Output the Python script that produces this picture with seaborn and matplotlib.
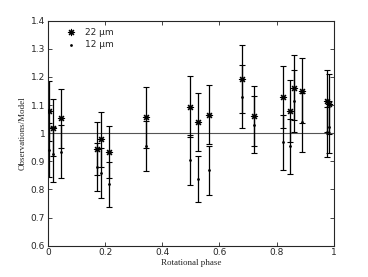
import numpy as np
import pandas as pd
import matplotlib
matplotlib.use('Agg')
import matplotlib.pyplot as plt
import seaborn as sns
from matplotlib.ticker import FuncFormatter

# valores
phase = [0.005, 0.019, 0.047, 0.171, 0.187, 0.212, 0.343, 0.497, 0.524,
         0.564, 0.679, 0.722, 0.821, 0.847, 0.861, 0.888, 0.977, 0.982]
obs22 = [1.079, 1.020, 1.053, 0.945, 0.978, 0.933, 1.057, 1.094, 1.040,
         1.066, 1.193, 1.061, 1.129, 1.080, 1.162, 1.151, 1.115, 1.105]
err22 = [0.105, 0.102, 0.104, 0.094, 0.097, 0.094, 0.108, 0.109, 0.103,
         0.106, 0.121, 0.107, 0.111, 0.110, 0.116, 0.115, 0.110, 0.107]
obs12 = [0.940, 0.925, 0.934, 0.880, 0.858, 0.819, 0.955, 0.905, 0.837,
         0.868, 1.130, 1.030, 0.967, 0.953, 1.114, 1.039, 1.005, 1.023]
err12 = [0.095, 0.098, 0.094, 0.086, 0.088, 0.080, 0.090, 0.090, 0.083,
         0.088, 0.112, 0.102, 0.098, 0.098, 0.111, 0.105, 0.089, 0.092]

df = pd.DataFrame({'phase': phase, 'obs22': obs22, 'err22': err22,
                   'obs12': obs12, 'err12': err12})

sns.set_style('ticks')
plt.rcParams['font.family'] = ['DejaVu Sans']

fig = plt.figure(figsize=(3.68, 2.77), dpi=100)
ax = fig.add_axes([0.1304, 0.113, 0.7764, 0.8123])

# linha de referencia
ax.axhline(1.0, color='#555555', lw=0.8, zorder=1)

# barras de erro
ax.errorbar(df['phase'], df['obs22'], yerr=df['err22'], fmt='none',
            ecolor='black', elinewidth=0.9, capsize=2, capthick=0.8, zorder=2)
ax.errorbar(df['phase'], df['obs12'], yerr=df['err12'], fmt='none',
            ecolor='black', elinewidth=0.9, capsize=2, capthick=0.8, zorder=2)

sns.scatterplot(data=df, x='phase', y='obs22', marker=(8, 2, 0), s=20,
                color='black', edgecolor='black', linewidth=0.8,
                label='22 \u00b5m', ax=ax, zorder=3)
sns.scatterplot(data=df, x='phase', y='obs12', marker='o', s=4,
                color='black', edgecolor='black', linewidth=0,
                label='12 \u00b5m', ax=ax, zorder=3)

ax.set_xlim(0, 1)
ax.set_ylim(0.6, 1.4)
ax.set_xticks([0, 0.2, 0.4, 0.6, 0.8, 1])
ax.set_yticks(np.arange(0.6, 1.41, 0.1))
ax.xaxis.set_major_formatter(FuncFormatter(lambda v, p: '%g' % round(v, 2)))
ax.yaxis.set_major_formatter(FuncFormatter(lambda v, p: '%g' % round(v, 2)))
ax.tick_params(direction='in', length=3, width=0.6, labelsize=6.5,
               top=True, right=True, pad=2)
for s in ax.spines.values():
    s.set_linewidth(0.8)

ax.set_xlabel('Rotational phase', family='Liberation Serif', fontsize=6.5, labelpad=1)
ax.set_ylabel('Observations/Model', family='Liberation Serif', fontsize=6.5, labelpad=3)

ax.legend(loc='upper left', bbox_to_anchor=(0.03, 1.005), frameon=False,
          fontsize=6.5, handletextpad=0.8, labelspacing=0.4, handlelength=1.5)

fig.savefig('out.png', dpi=100)
